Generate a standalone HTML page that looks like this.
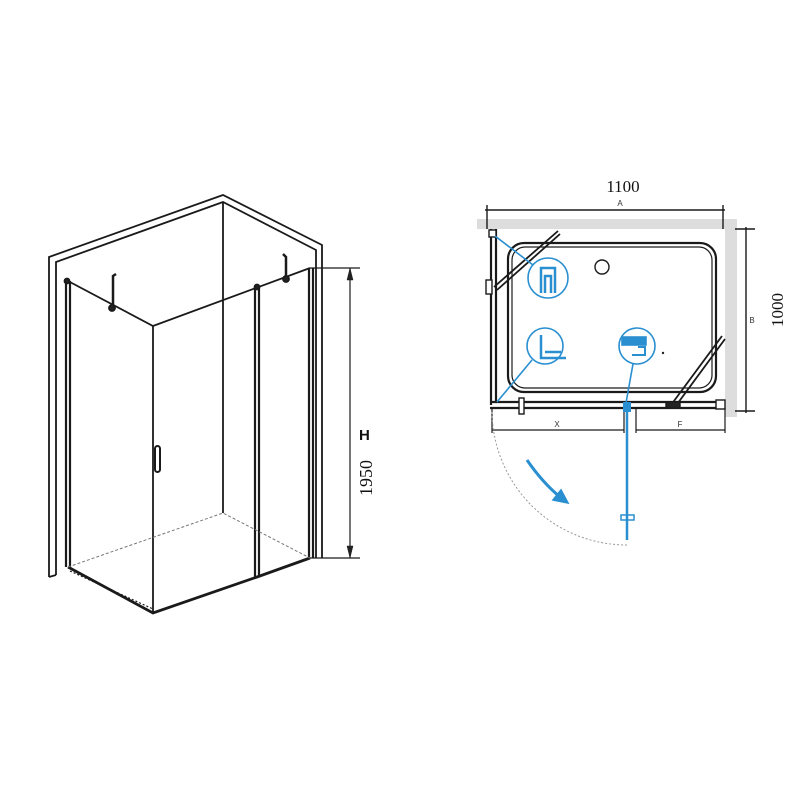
<!DOCTYPE html>
<html><head><style>html,body{margin:0;padding:0;background:#fff;width:800px;height:800px;overflow:hidden}</style></head>
<body>
<svg width="800" height="800" viewBox="0 0 800 800" xmlns="http://www.w3.org/2000/svg" font-family="Liberation Serif, serif">
<g fill="none" stroke="#1a1a1a" stroke-width="1.8">
<path d="M49,577 L49,257 L223,195 L322,245 L322,558"/>
<path d="M56,575 L56,262 L223,202 L316,250 L316,558"/>
<path d="M49,577 L56,575"/>
<line x1="223" y1="202" x2="223" y2="513"/>
<path d="M66,281 L66,567 M70,281 L70,567" stroke-width="2.2"/>
<path d="M255,287 L255,577 M259,287 L259,577" stroke-width="2.2"/>
<path d="M309,268 L309,558 M313,268 L313,558" stroke-width="2.2"/>
<path d="M68,281 L153,326 L310,268"/>
<line x1="153" y1="326" x2="153" y2="613"/>
<rect x="155" y="446" width="5" height="26" rx="2.5" stroke-width="2"/>
<path d="M68,567 L153,613 L257,577 L310,558" stroke-width="2.8"/>
<path d="M70,571 L153,609" stroke-width="1.2" stroke-dasharray="2,2"/>
<path d="M68,567 L223,513 L310,558" stroke="#777" stroke-width="1" stroke-dasharray="3,2"/>
<path d="M116,274 L113,276 L113,306" stroke-width="2.5"/>
<circle cx="112" cy="308" r="3" fill="#222"/>
<path d="M283,254 L286,257 L286,277" stroke-width="2.5"/>
<circle cx="286" cy="279" r="3" fill="#222"/>
<circle cx="67" cy="281" r="2.5" fill="#222"/>
<circle cx="257" cy="287" r="2.5" fill="#222"/>
<path d="M310,268 L360,268 M310,558 L360,558 M350,268 L350,558" stroke-width="1.2"/>
<path d="M350,268 L347,280 L353,280 Z M350,558 L347,546 L353,546 Z" fill="#222" stroke-width="0.5"/>
</g>
<text x="359" y="440" font-family="Liberation Sans, sans-serif" font-weight="bold" font-size="15" fill="#111">H</text>
<text x="0" y="0" font-size="18" fill="#111" transform="translate(372,496) rotate(-90)">1950</text>

<rect x="477" y="219" width="260" height="10" fill="#ddd"/>
<rect x="725" y="229" width="12" height="188" fill="#ddd"/>
<g fill="none" stroke="#1a1a1a" stroke-width="1.4">
<path d="M487,205 L487,229 M723,205 L723,229 M485,210 L725,210"/>
<path d="M746,227 L746,413 M735,229 L755,229 M735,411 L755,411"/>
<rect x="508" y="243" width="208" height="149" rx="16" stroke-width="2.2"/>
<rect x="512" y="247" width="200" height="141" rx="13" stroke-width="1.2"/>
<circle cx="602" cy="267" r="7"/>
<path d="M491,229 L491,405 M496,229 L496,402" stroke-width="2.2"/>
<rect x="486" y="280" width="6" height="14" fill="#fff"/>
<path d="M490,402 L725,402 M490,408 L725,408" stroke-width="2.2"/>
<path d="M494,287 L558,231 M497,290 L560,234" stroke-width="1.8"/>
<path d="M671,405 L722,336 M675,407 L725,339" stroke-width="1.8"/>
<rect x="666" y="402" width="14" height="6" fill="#222"/>
<rect x="489" y="230" width="7" height="7" fill="#fff"/>
<rect x="716" y="400" width="9" height="9" fill="#fff"/>
<rect x="519" y="398" width="5" height="16" fill="#fff"/>
<path d="M492,408 L492,433 M624,408 L624,433 M492,430 L624,430" stroke-width="1.2"/>
<path d="M636,408 L636,433 M725,408 L725,433 M636,430 L725,430" stroke-width="1.2"/>
</g>
<g fill="none" stroke="#2a8fd0" stroke-width="1.6">
<circle cx="548" cy="278" r="20"/>
<circle cx="545" cy="346" r="18"/>
<circle cx="637" cy="346" r="18"/>
<path d="M495,236 L533,265 M497,402 L532,360 M633,364 L626,403"/>
<path d="M541,293 L541,268 L555,268 L555,293 M545,293 L545,276 L551,276 L551,293" stroke-width="2.5"/>
<path d="M541,335 L541,358 L566,358 M545,352 L561,352" stroke-width="2.5"/>
<rect x="622" y="337" width="24" height="8" fill="#2a8fd0"/>
<path d="M638,347 L645,347 L645,355 L632,355" stroke-width="2"/>
<line x1="627" y1="405" x2="627" y2="540" stroke-width="2.5"/>
<rect x="621" y="515" width="13" height="5" stroke-width="1.5"/>
<path d="M527,460 Q542,482 560,497" stroke-width="3"/>
<path d="M568,503 L553,500 L561,490 Z" fill="#2a8fd0"/>
</g>
<rect x="623" y="402" width="8" height="10" fill="#2a8fd0"/>
<path d="M492,412 A135,135 0 0 0 627,545" fill="none" stroke="#999" stroke-width="1" stroke-dasharray="2,2"/>
<circle cx="663" cy="353" r="1.2" fill="#222"/>
<text x="623" y="192" font-size="17" text-anchor="middle" fill="#111">1100</text>
<text x="620" y="206" font-family="Liberation Sans, sans-serif" font-size="8" text-anchor="middle" fill="#333">A</text>
<text x="752" y="323" font-family="Liberation Sans, sans-serif" font-size="8" text-anchor="middle" fill="#333">B</text>
<text x="557" y="427" font-family="Liberation Sans, sans-serif" font-size="8" text-anchor="middle" fill="#333">X</text>
<text x="680" y="427" font-family="Liberation Sans, sans-serif" font-size="8" text-anchor="middle" fill="#333">F</text>
<text x="0" y="0" font-size="17" fill="#111" text-anchor="middle" transform="translate(783,310) rotate(-90)">1000</text>
</svg>
</body></html>
